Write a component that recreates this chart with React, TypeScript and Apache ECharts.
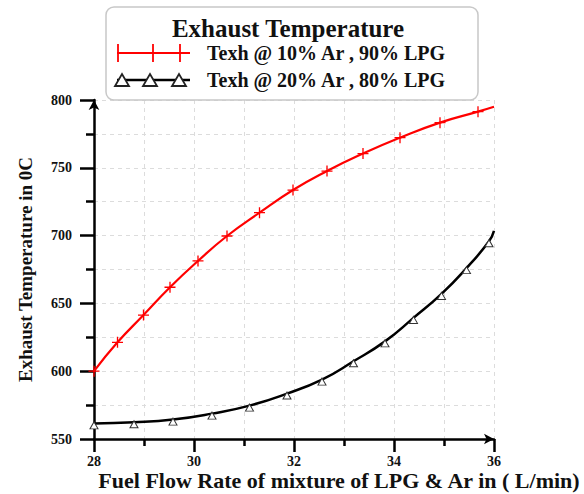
import React, { useEffect, useRef } from "react";
import * as echarts from "echarts";

const xTitle = "Fuel Flow Rate of mixture of LPG & Ar in ( L/min)";
const yTitle = "Exhaust Temperature in 0C";
const legendTitle = "Exhaust Temperature";
const seriesNames = ["Texh @ 10% Ar , 90% LPG", "Texh @ 20% Ar , 80% LPG"];

const redX = [28, 28.47, 28.99, 29.52, 30.08, 30.66, 31.31, 31.98, 32.66, 33.38, 34.12, 34.92, 35.68, 36];
const redY = [600, 621.3, 641.4, 661.9, 681.3, 699.7, 716.9, 733.6, 747.6, 760.5, 772.2, 783.3, 791.4, 795];

const blackX = [28, 28.8, 29.58, 30.36, 31.11, 31.86, 32.56, 33.19, 33.82, 34.39, 34.95, 35.45, 35.9, 36];
const blackY = [561.5, 562.3, 564.3, 568.7, 574.6, 583.5, 593.8, 607.3, 622, 639.3, 657, 676, 695.8, 703.5];

const FONT = "Liberation Serif";
const PLUS = "path://M4.4,0 H5.6 V4.4 H10 V5.6 H5.6 V10 H4.4 V5.6 H0 V4.4 H4.4 Z";

function build(xs: number[], ys: number[]) {
  return xs.map((x, i) =>
    i === xs.length - 1 ? { value: [x, ys[i]], symbol: "none" } : { value: [x, ys[i]] }
  );
}

export default function App() {
  const ref = useRef<HTMLDivElement>(null);
  useEffect(() => {
    document.body.style.margin = "0";
    const chart = echarts.init(ref.current!, null, { renderer: "svg" });
    const gridLine = { show: true, lineStyle: { color: "#dcdcdc", type: [4, 4], width: 1 } };
    const triPts = (cx: number, cy: number) => [
      [cx - 7, cy + 6],
      [cx + 7, cy + 6],
      [cx, cy - 6],
    ];
    chart.setOption({
      animation: false,
      backgroundColor: "#ffffff",
      textStyle: { fontFamily: FONT },
      grid: { left: 94, right: 90, top: 100, bottom: 55, containLabel: false, outerBoundsMode: "none" },
      xAxis: {
        type: "value",
        min: 28,
        max: 36,
        interval: 2,
        name: xTitle,
        nameLocation: "middle",
        nameGap: 30,
        nameMoveOverlap: false,
        nameTextStyle: { fontFamily: FONT, fontWeight: "bold", fontSize: 22, color: "#111", padding: [0, 0, 0, 90] },
        axisLine: { show: true, lineStyle: { color: "#000", width: 2.5 }, symbol: ["none", "arrow"], symbolSize: [8, 10] },
        axisTick: { show: true, inside: false, length: 13, lineStyle: { color: "#000", width: 2.5 } },
        minorTick: { show: true, splitNumber: 2, length: 7, lineStyle: { color: "#000", width: 2.5 } },
        axisLabel: { fontFamily: FONT, fontWeight: "bold", fontSize: 14, color: "#111", margin: 15 },
        splitLine: gridLine,
        minorSplitLine: gridLine,
      },
      yAxis: {
        type: "value",
        min: 550,
        max: 800,
        interval: 50,
        name: yTitle,
        nameLocation: "middle",
        nameGap: 59,
        nameMoveOverlap: false,
        nameTextStyle: { fontFamily: FONT, fontWeight: "bold", fontSize: 19, color: "#111" },
        axisLine: { show: true, lineStyle: { color: "#000", width: 2.5 }, symbol: ["none", "arrow"], symbolSize: [8, 10] },
        axisTick: { show: true, inside: false, length: 14, lineStyle: { color: "#000", width: 2.5 } },
        minorTick: { show: true, splitNumber: 2, length: 8, lineStyle: { color: "#000", width: 2.5 } },
        axisLabel: { fontFamily: FONT, fontWeight: "bold", fontSize: 14, color: "#111", margin: 22 },
        splitLine: gridLine,
        minorSplitLine: gridLine,
      },
      series: [
        {
          name: seriesNames[0],
          type: "line",
          smooth: true,
          data: build(redX, redY),
          lineStyle: { color: "#ff0000", width: 2.2 },
          itemStyle: { color: "#ff0000" },
          symbol: PLUS,
          symbolSize: 11,
          showAllSymbol: true,
          z: 3,
        },
        {
          name: seriesNames[1],
          type: "line",
          smooth: true,
          data: build(blackX, blackY),
          lineStyle: { color: "#000", width: 2.5 },
          itemStyle: { color: "#fff", borderColor: "#333", borderWidth: 1 },
          symbol: "triangle",
          symbolSize: [8, 7],
          symbolOffset: [0, 2],
          showAllSymbol: true,
          z: 3,
        },
      ],
      graphic: [
        {
          type: "rect",
          shape: { x: 106, y: 7, width: 372, height: 93, r: 8 },
          style: { fill: "#fff", stroke: "#c8c8c8", lineWidth: 1.5 },
          z: 10,
        },
        {
          type: "text",
          x: 288,
          y: 28,
          style: { text: legendTitle, fontFamily: FONT, fontWeight: "bold", fontSize: 25, fill: "#111", align: "center", verticalAlign: "middle" },
          z: 11,
        },
        {
          type: "line",
          shape: { x1: 117, y1: 53, x2: 190, y2: 53 },
          style: { stroke: "#ff0000", lineWidth: 2.2 },
          z: 11,
        },
        ...[118, 153, 180].map((cx) => ({
          type: "line",
          shape: { x1: cx, y1: 44, x2: cx, y2: 62 },
          style: { stroke: "#ff0000", lineWidth: 1.8 },
          z: 11,
        })),
        {
          type: "line",
          shape: { x1: 117, y1: 80, x2: 190, y2: 80 },
          style: { stroke: "#000", lineWidth: 2.5 },
          z: 11,
        },
        ...[122, 150, 179].map((cx) => ({
          type: "polygon",
          shape: { points: triPts(cx, 80) },
          style: { fill: "#fff", stroke: "#222", lineWidth: 1.8 },
          z: 12,
        })),
        {
          type: "text",
          x: 207,
          y: 53,
          style: { text: seriesNames[0], fontFamily: FONT, fontWeight: "bold", fontSize: 20, fill: "#111", align: "left", verticalAlign: "middle" },
          z: 11,
        },
        {
          type: "text",
          x: 207,
          y: 80,
          style: { text: seriesNames[1], fontFamily: FONT, fontWeight: "bold", fontSize: 20, fill: "#111", align: "left", verticalAlign: "middle" },
          z: 11,
        },
      ],
    });
    return () => chart.dispose();
  }, []);
  return <div ref={ref} style={{ width: 584, height: 494 }} />;
}
